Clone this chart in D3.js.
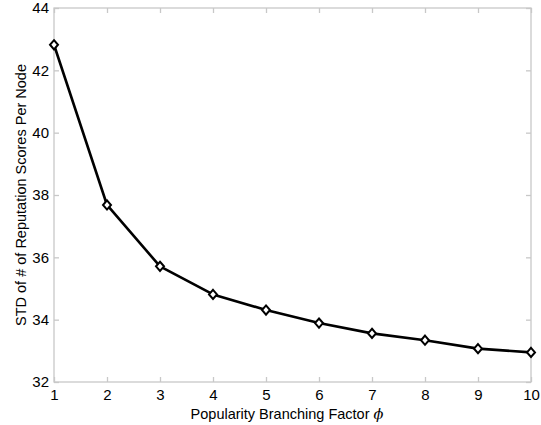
<!DOCTYPE html>
<html>
<head>
<meta charset="utf-8">
<script src="https://cdn.jsdelivr.net/npm/d3@7"></script>
<style>
  html, body { margin: 0; padding: 0; background: #fff; }
  svg text { font-family: "Liberation Sans", Arial, sans-serif; fill: #000; }
</style>
</head>
<body>
<svg id="chart" width="541" height="425"></svg>
<script>
// Branching factor vs. standard deviation of reputation scores
const branchingFactors = [1, 2, 3, 4, 5, 6, 7, 8, 9, 10];
const stdScores = [42.82, 37.68, 35.71, 34.81, 34.31, 33.89, 33.56, 33.34, 33.07, 32.95];
const xTicks = [1, 2, 3, 4, 5, 6, 7, 8, 9, 10];
const yTicks = [32, 34, 36, 38, 40, 42, 44];

const svg = d3.select("#chart");
const margin = { left: 54, right: 10, top: 8, bottom: 43 };
const W = 541, H = 425;
const x0 = margin.left, x1 = W - margin.right;
const y0 = H - margin.bottom, y1 = margin.top;

const x = d3.scaleLinear().domain([1, 10]).range([x0, x1]);
const y = d3.scaleLinear().domain([32, 44]).range([y0, y1]);

const axisColor = "#c8c8c8";
const tickLen = 5;

// Frame
svg.append("rect")
  .attr("x", x0).attr("y", y1)
  .attr("width", x1 - x0).attr("height", y0 - y1)
  .attr("fill", "none").attr("stroke", axisColor).attr("stroke-width", 1.3);

// Inward ticks on all four sides
const styleAxis = g => {
  g.select(".domain").remove();
  g.selectAll(".tick line").attr("stroke", axisColor).attr("stroke-width", 1.3);
  g.selectAll(".tick text").style("font-size", "15px").attr("fill", "#000");
};

svg.append("g").attr("transform", `translate(0,${y0})`)
  .call(d3.axisBottom(x).tickValues(xTicks).tickSize(-tickLen).tickPadding(7).tickFormat(d3.format("d")))
  .call(styleAxis);
svg.append("g").attr("transform", `translate(0,${y1})`)
  .call(d3.axisTop(x).tickValues(xTicks).tickSize(-tickLen).tickFormat(""))
  .call(styleAxis);
svg.append("g").attr("transform", `translate(${x0},0)`)
  .call(d3.axisLeft(y).tickValues(yTicks).tickSize(-tickLen).tickPadding(5).tickFormat(d3.format("d")))
  .call(styleAxis);
svg.append("g").attr("transform", `translate(${x1},0)`)
  .call(d3.axisRight(y).tickValues(yTicks).tickSize(-tickLen).tickFormat(""))
  .call(styleAxis);

// Data line
const pts = branchingFactors.map((b, i) => [b, stdScores[i]]);
svg.append("path")
  .datum(pts)
  .attr("fill", "none").attr("stroke", "#000").attr("stroke-width", 2.6)
  .attr("stroke-linejoin", "round")
  .attr("d", d3.line().x(d => x(d[0])).y(d => y(d[1])));

// Diamond markers
svg.selectAll(".marker")
  .data(pts).enter().append("path")
  .attr("class", "marker")
  .attr("transform", d => `translate(${x(d[0])},${y(d[1])})`)
  .attr("d", "M0,-4.6L4,0L0,4.6L-4,0Z")
  .attr("fill", "#fff").attr("stroke", "#000").attr("stroke-width", 2);

// Axis titles
const xt = svg.append("text")
  .attr("x", 287).attr("y", H - 6)
  .attr("text-anchor", "middle").style("font-size", "14.5px");
xt.append("tspan").text("Popularity Branching Factor ");
xt.append("tspan").attr("font-style", "italic").attr("font-family", "DejaVu Serif, serif").text("ϕ");

svg.append("text")
  .attr("transform", `translate(26,${(y0 + y1) / 2}) rotate(-90)`)
  .attr("text-anchor", "middle").style("font-size", "14.5px")
  .text("STD of # of Reputation Scores Per Node");
</script>
</body>
</html>
